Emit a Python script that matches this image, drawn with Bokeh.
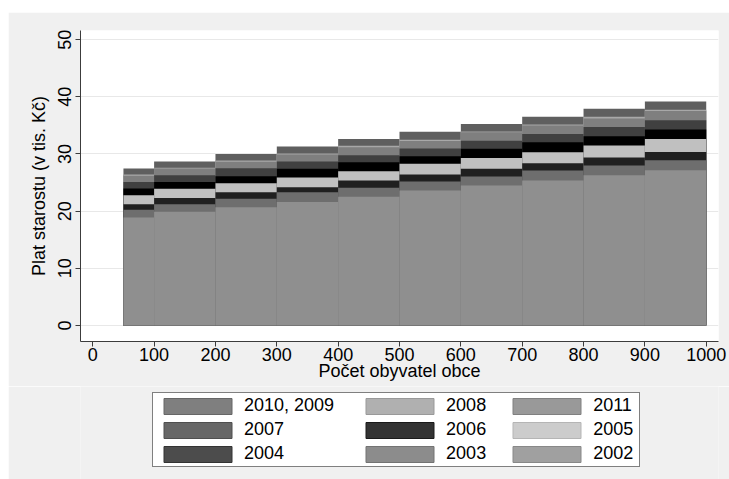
from bokeh.plotting import figure
from bokeh.layouts import column, row
from bokeh.models import Legend, LegendItem, ColumnDataSource, Range1d, FixedTicker, Spacer
from bokeh.embed import file_html
from bokeh.resources import INLINE

# population brackets (lower / upper bound)
bracket_lo = [50, 100, 200, 300, 400, 500, 600, 700, 800, 900]
bracket_hi = [100, 200, 300, 400, 500, 600, 700, 800, 900, 1000]

# salary in thousands CZK, per bracket
salary_2010_2009 = [27.45, 28.7, 30.0, 31.3, 32.6, 33.9, 35.25, 36.5, 37.9, 39.2]
salary_2008 = [26.4, 27.6, 28.85, 30.1, 31.45, 32.5, 33.95, 35.15, 36.5, 37.75]
salary_2011 = [26.2, 27.45, 28.65, 29.9, 31.2, 32.25, 33.8, 35.0, 36.2, 37.5]
salary_2007 = [25.1, 26.3, 27.5, 28.7, 29.8, 30.95, 32.3, 33.5, 34.7, 35.9]
salary_2006 = [23.95, 25.1, 26.1, 27.4, 28.55, 29.6, 30.9, 32.05, 33.1, 34.3]
salary_2005 = [22.8, 23.9, 24.9, 25.9, 27.0, 28.3, 29.3, 30.3, 31.5, 32.6]
salary_2004 = [21.2, 22.3, 23.3, 24.2, 25.35, 26.4, 27.4, 28.4, 29.4, 30.35]
salary_2003 = [20.25, 21.2, 22.15, 23.3, 24.1, 25.2, 26.05, 27.1, 28.0, 28.9]
salary_2002 = [18.9, 19.9, 20.7, 21.6, 22.5, 23.6, 24.5, 25.35, 26.3, 27.15]

series_labels = ["2010, 2009", "2008", "2011", "2007", "2006", "2005", "2004", "2003", "2002"]
series_values = [salary_2010_2009, salary_2008, salary_2011, salary_2007, salary_2006,
                 salary_2005, salary_2004, salary_2003, salary_2002]
bar_colors = ["#5f5f5f", "#a8a8a8", "#7f7f7f", "#404040", "#000000",
              "#c0c0c0", "#202020", "#6e6e6e", "#8f8f8f"]
legend_colors = ["#7f7f7f", "#b0b0b0", "#999999", "#676767", "#333333",
                 "#cccccc", "#4c4c4c", "#8c8c8c", "#a0a0a0"]
legend_lines = ["#666666", "#999999", "#808080", "#4f4f4f", "#1a1a1a",
                "#b5b5b5", "#333333", "#737373", "#888888"]

x_ticks = [0, 100, 200, 300, 400, 500, 600, 700, 800, 900, 1000]
y_ticks = [0, 10, 20, 30, 40, 50]

FONT = "Liberation Sans"
NB = "\u00a0"
BG = "#f0f0f0"

# ---------------- main chart ----------------
p = figure(width=721, height=374,
           x_range=Range1d(-20, 1020), y_range=Range1d(-2.8, 51.6),
           output_backend="svg", toolbar_location=None,
           min_border_left=72, min_border_right=11, min_border_top=18, min_border_bottom=45)

p.background_fill_color = "white"
p.border_fill_color = BG
p.outline_line_color = None

sources = []
for lab, vals, col in zip(series_labels, series_values, bar_colors):
    src = ColumnDataSource(dict(left=bracket_lo, right=bracket_hi,
                                top=vals, bottom=[0] * len(vals)))
    sources.append(src)
    p.quad(left="left", right="right", top="top", bottom="bottom", source=src,
           fill_color=col, line_color=None)

p.xaxis.ticker = FixedTicker(ticks=x_ticks)
p.yaxis.ticker = FixedTicker(ticks=y_ticks)
for ax in (p.xaxis[0], p.yaxis[0]):
    ax.axis_line_color = "#3c3c3c"
    ax.major_tick_line_color = "#3c3c3c"
    ax.major_tick_out = 5
    ax.major_tick_in = 0
    ax.minor_tick_line_color = None
    ax.major_label_text_font = FONT
    ax.major_label_text_font_size = "18px"
    ax.major_label_text_color = "black"
    ax.axis_label_text_font = FONT
    ax.axis_label_text_font_size = "18px"
    ax.axis_label_text_font_style = "normal"
    ax.axis_label_text_color = "black"

p.xaxis.axis_label = "Počet obyvatel obce"
p.xaxis.major_label_standoff = 1
p.xaxis.axis_label_standoff = -3
p.yaxis.axis_label = "Plat starostu (v tis. Kč)"
p.yaxis.major_label_orientation = "vertical"
p.yaxis.major_label_standoff = 4
p.yaxis.axis_label_standoff = 7

p.xgrid.grid_line_color = None
p.ygrid.grid_line_color = "#e8e8e8"
p.ygrid.grid_line_width = 1
p.ygrid.ticker = FixedTicker(ticks=y_ticks)

# ---------------- legend strip ----------------
lp = figure(width=721, height=93, output_backend="svg", toolbar_location=None,
            x_axis_location=None, y_axis_location=None,
            min_border_left=72, min_border_right=11, min_border_top=0, min_border_bottom=0)
lp.background_fill_color = BG
lp.border_fill_color = BG
lp.outline_line_color = None
lp.xgrid.visible = False
lp.ygrid.visible = False

leg_renderers = {}
for lab, src, lcol, lline in zip(series_labels, sources, legend_colors, legend_lines):
    r = lp.quad(left="left", right="right", top="top", bottom="bottom", source=src,
                fill_color=lcol, line_color=lline, line_width=1, visible=False)
    leg_renderers[lab] = r

display_labels = {l: l for l in series_labels}
display_labels["2010, 2009"] = "2010, 2009" + NB * 4
display_labels["2008"] = "2008" + NB * 3
display_labels["2011"] = "2011" + NB

order = ["2010, 2009", "2007", "2004", "2008", "2006", "2003", "2011", "2005", "2002"]
items = [LegendItem(label=display_labels[l], renderers=[leg_renderers[l]]) for l in order]
legend = Legend(items=items, ncols=3, location=(72, 12),
                glyph_width=85, glyph_height=20, label_standoff=4,
                spacing=3, padding=2, margin=0,
                label_text_font=FONT, label_text_font_size="18px",
                label_text_color="black", label_text_baseline="middle",
                border_line_color="black", border_line_width=1,
                background_fill_color="white", background_fill_alpha=1.0,
                inactive_fill_alpha=0.0)
lp.add_layout(legend, "center")

layout = row(Spacer(width=8, height=479),
             column(Spacer(width=721, height=12), p, lp, spacing=0),
             spacing=0)
open("out.html", "w").write(file_html(layout, INLINE))
